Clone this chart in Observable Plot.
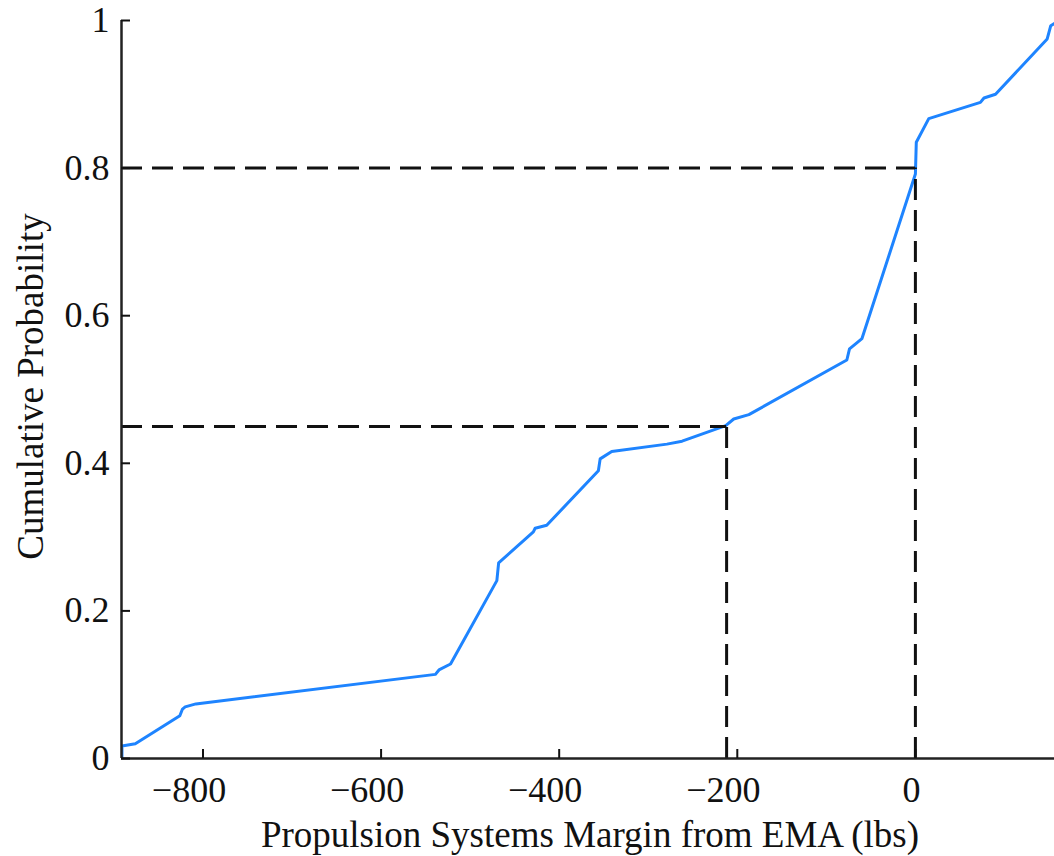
<!DOCTYPE html>
<html>
<head>
<meta charset="utf-8">
<script src="https://cdn.jsdelivr.net/npm/d3@7"></script>
<script src="https://cdn.jsdelivr.net/npm/@observablehq/plot@0.6"></script>
<style>
  html, body { margin: 0; padding: 0; background: #fff; }
  #chart svg { display: block; }
</style>
</head>
<body>
<div id="chart"></div>
<script>
const marginLbs = [-891, -891, -876, -826, -823, -820, -808, -539, -535, -522,
  -470, -468, -429, -427, -414, -356, -354, -341, -279, -262,
  -213, -204, -187, -77, -74, -60, 0, 1, 15, 73, 77, 90, 148, 152, 156];
const cumProb = [0, 0.017, 0.020, 0.058, 0.067, 0.070, 0.074, 0.114, 0.120, 0.128,
  0.241, 0.265, 0.307, 0.312, 0.316, 0.390, 0.406, 0.416, 0.426, 0.430,
  0.451, 0.460, 0.466, 0.540, 0.555, 0.569, 0.792, 0.835, 0.867, 0.889, 0.895, 0.900, 0.975, 0.993, 0.996];

// Dashed guide lines (percentile read-offs)
const guideMargin = [-212, 0];
const guideProb = [0.45, 0.8];

const xTicks = [-800, -600, -400, -200, 0];
const xTicksNeg = [-800, -600, -400, -200];
const xTicksZero = [0];
const yTicks = [0, 0.2, 0.4, 0.6, 0.8, 1];
const xDomain = [-891.5, 156.2];
const yDomain = [0, 1];

const xLabel = "Propulsion Systems Margin from EMA (lbs)";
const yLabel = "Cumulative Probability";

const curve = marginLbs.map((m, i) => ({m, p: cumProb[i]}));
const guides = guideMargin.map((m, i) => ({m, p: guideProb[i]}));

const fmtX = d => d < 0 ? "\u2212" + Math.abs(d) : String(d);
const fmtY = d => String(+d.toFixed(1));

const font = "'Liberation Serif', 'Times New Roman', Times, serif";

const chart = Plot.plot({
  width: 1054,
  height: 856,
  marginLeft: 121,
  marginRight: 0,
  marginTop: 20,
  marginBottom: 98,
  style: {fontFamily: font, color: "#111", background: "#fff", overflow: "visible"},
  x: {domain: xDomain},
  y: {domain: yDomain},
  marks: [
    Plot.line(curve, {x: "m", y: "p", stroke: "#1E84FF", strokeWidth: 3, clip: true}),
    Plot.ruleY(guides, {y: "p", x1: xDomain[0], x2: "m", stroke: "#111", strokeWidth: 3, strokeDasharray: "21,10"}),
    Plot.ruleX(guides, {x: "m", y1: 0, y2: "p", stroke: "#111", strokeWidth: 3, strokeDasharray: "21,10"}),
    Plot.ruleX([xDomain[0]], {stroke: "#222", strokeWidth: 2.5}),
    Plot.ruleY([yDomain[0]], {stroke: "#222", strokeWidth: 2.5}),
    // tick marks (inward)
    Plot.axisX(xTicks, {tickSize: -9, tickFormat: () => "", label: null, strokeWidth: 2}),
    // tick labels (offset left like the reference)
    Plot.axisX(xTicksNeg, {tickSize: 0, tickPadding: 18, fontSize: 36, tickFormat: fmtX, label: null, dx: -14}),
    Plot.axisX(xTicksZero, {tickSize: 0, tickPadding: 18, fontSize: 36, tickFormat: fmtX, label: null, dx: -4}),
    Plot.axisY(yTicks, {tickSize: -9, tickPadding: 21, fontSize: 36, tickFormat: fmtY, label: null, strokeWidth: 2}),
    Plot.text([xLabel], {frameAnchor: "bottom", dx: 2, dy: 88, lineAnchor: "bottom", fontSize: 37, fill: "#111"}),
    Plot.text([yLabel], {frameAnchor: "left", dx: -79, dy: -3, rotate: -90, textAnchor: "middle", lineAnchor: "bottom", fontSize: 37, fill: "#111"})
  ]
});
document.getElementById("chart").appendChild(chart);
</script>
</body>
</html>
